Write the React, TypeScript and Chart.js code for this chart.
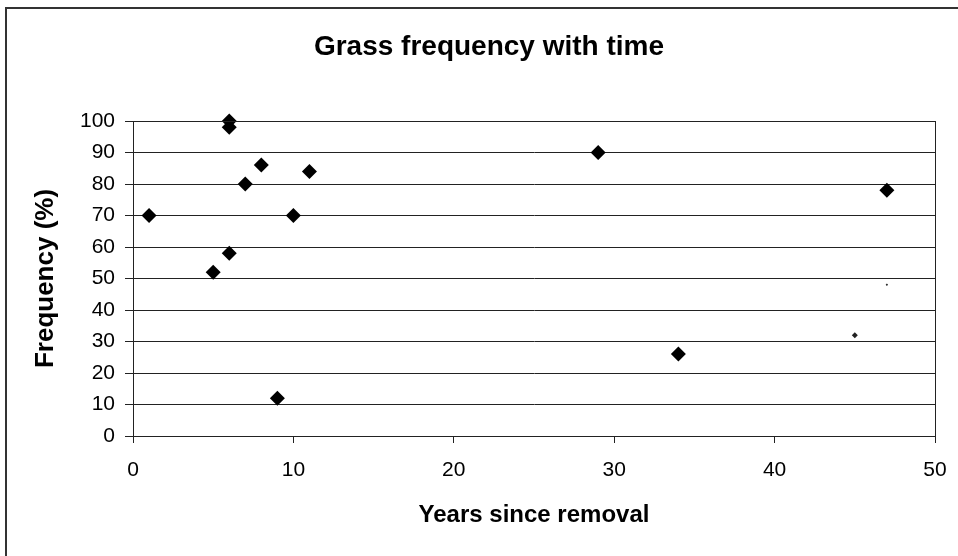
import React, { useEffect, useRef } from "react";
import { Chart, registerables } from "chart.js";

Chart.register(...registerables);

const years = [1, 5, 6, 6, 6, 7, 8, 9, 10, 11, 29, 34, 47];
const frequency = [70, 52, 58, 98, 100, 80, 86, 12, 70, 84, 90, 26, 78];
const faintYears = [45, 47];
const faintFrequency = [32, 48];
const faintRadius = [3, 1.2];
const xTicks = [0, 10, 20, 30, 40, 50];
const yTicks = [0, 10, 20, 30, 40, 50, 60, 70, 80, 90, 100];
const chartTitle = "Grass frequency with time";

const FONT = "'Liberation Sans', Arial, sans-serif";

const framePlugin = {
  id: "frame",
  afterDraw(chart: any) {
    const { ctx, chartArea } = chart;
    ctx.save();
    ctx.strokeStyle = "#222";
    ctx.lineWidth = 1;
    ctx.strokeRect(chartArea.left + 0.5, chartArea.top + 0.5, chartArea.right - chartArea.left, chartArea.bottom - chartArea.top);
    ctx.strokeStyle = "#333";
    ctx.lineWidth = 2;
    ctx.beginPath();
    ctx.moveTo(6, 556);
    ctx.lineTo(6, 8);
    ctx.lineTo(958, 8);
    ctx.stroke();
    ctx.fillStyle = "#000";
    ctx.font = `bold 28px ${FONT}`;
    ctx.textAlign = "center";
    ctx.textBaseline = "middle";
    ctx.fillText(chartTitle, 489, 47);
    ctx.restore();
  },
};

export default function App() {
  const ref = useRef<HTMLCanvasElement>(null);
  useEffect(() => {
    if (!ref.current) return;
    const chart = new Chart(ref.current, {
      type: "scatter",
      data: {
        datasets: [
          {
            label: "Grass frequency",
            data: years.map((x, i) => ({ x, y: frequency[i] })),
            pointStyle: "rectRot",
            pointRadius: 7.5,
            backgroundColor: "#000",
            borderColor: "#000",
            borderWidth: 0,
            clip: false,
          },
          {
            label: "faint",
            data: faintYears.map((x, i) => ({ x, y: faintFrequency[i] })),
            pointStyle: "rectRot",
            pointRadius: faintRadius,
            backgroundColor: "#222",
            borderColor: "#222",
            borderWidth: 0,
            clip: false,
          },
        ],
      },
      options: {
        responsive: false,
        animation: false,
        layout: { padding: { left: 0, right: 23, top: 121, bottom: 0 } },
        plugins: {
          legend: { display: false },
          tooltip: { enabled: false },
          title: { display: false },
        },
        scales: {
          x: {
            type: "linear",
            min: 0,
            max: 50,
            afterBuildTicks: (s: any) => {
              s.ticks = xTicks.map((v) => ({ value: v }));
            },
            afterFit: (s: any) => {
              s.height = 120;
              s.paddingLeft = 0;
              s.paddingRight = 0;
            },
            grid: { drawOnChartArea: false, drawTicks: true, tickLength: 7, color: "#222" },
            border: { color: "#222", width: 1 },
            ticks: { color: "#000", font: { family: FONT, size: 21 }, padding: 15, maxRotation: 0 },
            title: {
              display: true,
              text: "Years since removal",
              color: "#000",
              font: { family: FONT, size: 24, weight: "bold" },
              padding: { top: 0, bottom: 26 },
            },
          },
          y: {
            type: "linear",
            min: 0,
            max: 100,
            afterBuildTicks: (s: any) => {
              s.ticks = yTicks.map((v) => ({ value: v }));
            },
            afterFit: (s: any) => {
              s.width = 133;
              s.paddingTop = 0;
              s.paddingBottom = 0;
            },
            grid: { drawTicks: true, tickLength: 8, color: "#222" },
            border: { color: "#222", width: 1 },
            ticks: { color: "#000", font: { family: FONT, size: 21 }, padding: 10 },
            title: {
              display: true,
              text: "Frequency (%)",
              color: "#000",
              font: { family: FONT, size: 26, weight: "bold" },
              padding: { top: 30, bottom: 0 },
            },
          },
        },
      },
      plugins: [framePlugin],
    });
    return () => chart.destroy();
  }, []);
  return (
    <div style={{ position: "absolute", left: 0, top: 0, width: 958, height: 556, background: "#fff" }}>
      <canvas ref={ref} width={958} height={556} />
    </div>
  );
}
